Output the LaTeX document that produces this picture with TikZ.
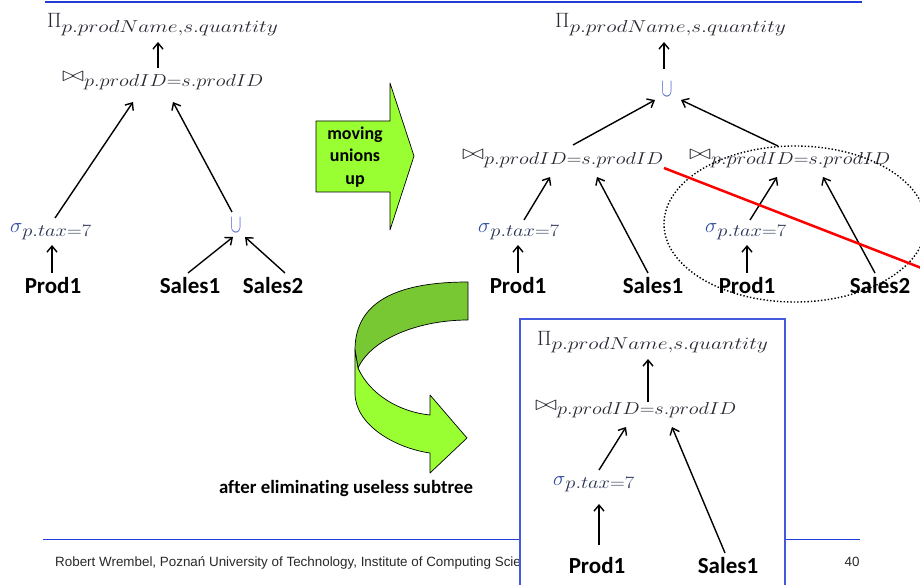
\documentclass[tikz,border=0pt]{standalone}
\usepackage{fontspec}
\usepackage{graphicx}
\setmainfont{Carlito}[Ligatures=NoCommon]
\newfontfamily\footfont{Liberation Sans}
\usetikzlibrary{arrows.meta}
\DeclareMathSizes{22}{22}{17}{13}

\definecolor{mgrey}{RGB}{40,40,52}
\definecolor{sblue}{RGB}{45,75,160}
\definecolor{slate}{RGB}{40,50,85}
\definecolor{ublue}{RGB}{70,95,200}
\definecolor{lgreen}{RGB}{153,255,51}
\definecolor{dgreen}{RGB}{119,200,51}
\definecolor{lineblue}{RGB}{35,60,215}
\definecolor{footgrey}{RGB}{40,40,40}

\newcommand{\widesub}[2][1.18]{\scalebox{#1}[1]{$\scriptstyle #2$}}
\newcommand{\projexpr}{$\Pi_{\widesub[1.24]{p.prodName,s.quantity}}$}
\newcommand{\joinexpr}{$\scalebox{1.3}[1]{$\bowtie$}_{\widesub{p.prodID=s.prodID}}$}
\newcommand{\selexpr}{$\textcolor{sblue}{\sigma}_{\color{slate}\widesub{p.tax=7}}$}
\newcommand{\unionexpr}{\scalebox{0.8}[1.25]{$\cup$}}

\begin{document}
\begin{tikzpicture}[
  x=1pt,y=-1pt,
  expr/.style={inner sep=0pt,anchor=base west,text=mgrey,font=\fontsize{22}{26}\selectfont},
  uni/.style={inner sep=0pt,anchor=base,text=ublue,font=\fontsize{22}{26}\selectfont},
  rel/.style={inner sep=2pt,anchor=base,font=\fontsize{23}{27}\selectfont\bfseries},
  arr/.style={-{Straight Barb[length=6pt,width=10pt]},line width=1.4pt},
  greenarrow/.style={draw=black,fill=lgreen,line width=0.7pt,line join=round}
]
\useasboundingbox (0,0) rectangle (920,585);
\clip (0,0) rectangle (920,585);

\draw[lineblue,line width=2.5pt] (45,2) -- (862,2);
\draw[lineblue,line width=1pt] (43,539) -- (860,539);
\node[anchor=base west,inner sep=0pt,text=footgrey,font=\footfont\fontsize{13.4}{16}\selectfont] (foot) at (55,566) {Robert Wrembel, Poznań University of Technology, Institute of Computing Science};
\node[anchor=base,inner sep=0pt,text=footgrey,font=\footfont\fontsize{13.4}{16}\selectfont] (page) at (852,566) {40};

% original tree
\node[expr] (p1) at (47,28) {\projexpr};
\node[expr] (j1) at (62,82) {\joinexpr};
\node[expr] (s1) at (10,233) {\selexpr};
\node[uni] (u1) at (236,233) {\unionexpr};
\node[rel] (a1) at (53,293) {Prod1};
\node[rel] (a2) at (190,293) {Sales1};
\node[rel] (a3) at (273,293) {Sales2};
\draw[arr] ([xshift=96pt,yshift=14pt]j1.base west) -- ([xshift=111pt,yshift=-14pt]p1.base west);
\draw[arr] ([xshift=45pt,yshift=15pt]s1.base west) -- ([xshift=71pt,yshift=-20pt]j1.base west);
\draw[arr] ([xshift=-4pt,yshift=21pt]u1.base) -- ([xshift=111pt,yshift=-20pt]j1.base west);
\draw[arr] ([xshift=-1pt,yshift=20pt]a1.base) -- ([xshift=42pt,yshift=-12pt]s1.base west);
\draw[arr] ([xshift=-2pt,yshift=20pt]a2.base) -- ([xshift=-3pt,yshift=-4pt]u1.base);
\draw[arr] ([xshift=12pt,yshift=20pt]a3.base) -- ([xshift=9pt,yshift=-4pt]u1.base);

% moving unions up
\draw[greenarrow] (316,121) -- (390,121) -- (390,83) -- (414,156) -- (390,230) -- (390,192) -- (316,192) -- cycle;
\node[font=\fontsize{18}{22.5}\selectfont\bfseries,align=center] (mv) at (355,157) {moving\\unions\\up};

% tree after moving unions
\node[expr] (p2) at (555,28) {\projexpr};
\node[uni] (u2) at (667,97) {\unionexpr};
\node[expr] (j2) at (462,160) {\joinexpr};
\node[expr] (j3) at (689,160) {\joinexpr};
\node[expr] (s2) at (478,233) {\selexpr};
\node[expr] (s3) at (705,233) {\selexpr};
\node[rel] (b1) at (518,293) {Prod1};
\node[rel] (b2) at (653,293) {Sales1};
\node[rel] (b3) at (747,293) {Prod1};
\node[rel] (b4) at (880,293) {Sales2};
\draw[arr] ([xshift=-3pt,yshift=28pt]u2.base) -- ([xshift=109pt,yshift=-14pt]p2.base west);
\draw[arr] ([xshift=111pt,yshift=15pt]j2.base west) -- ([xshift=-12pt,yshift=-3pt]u2.base);
\draw[arr] ([xshift=89pt,yshift=14pt]j3.base west) -- ([xshift=14pt,yshift=-3pt]u2.base);
\draw[arr] ([xshift=46pt,yshift=13pt]s2.base west) -- ([xshift=88pt,yshift=-17pt]j2.base west);
\draw[arr] ([xshift=-5pt,yshift=20pt]b2.base) -- ([xshift=135pt,yshift=-17pt]j2.base west);
\draw[arr] ([yshift=20pt]b1.base) -- ([xshift=40pt,yshift=-12pt]s2.base west);
\draw[arr] ([xshift=45pt,yshift=13pt]s3.base west) -- ([xshift=88pt,yshift=-17pt]j3.base west);
\draw[arr] ([xshift=-5pt,yshift=20pt]b4.base) -- ([xshift=134pt,yshift=-17pt]j3.base west);
\draw[arr] ([yshift=20pt]b3.base) -- ([xshift=42pt,yshift=-12pt]s3.base west);
\draw[dotted,line width=1.4pt] (795,224) ellipse [x radius=131,y radius=78];
\draw[red,line width=2.5pt] ([xshift=202pt,yshift=-8pt]j2.base west) -- (960,283);

% eliminating the subtree
\draw[greenarrow,fill=dgreen] (468,282) -- (468,320) .. controls (420,320) and (372,338) .. (358,368)
  -- (355,350) .. controls (355,300) and (400,282) .. cycle;
\draw[greenarrow] (355,350) -- (355,393) .. controls (355,425) and (395,448) .. (430,453)
  -- (430,473) -- (467,438) -- (430,395) -- (430,415) .. controls (400,412) and (370,395) .. (358,368) -- cycle;
\node[anchor=base,inner sep=0pt,font=\fontsize{18.8}{22}\selectfont\bfseries] (el) at (346,493) {after eliminating useless subtree};

% final tree
\draw[lineblue!85!white,line width=1.2pt,fill=white] (520,319) rectangle (785,600);
\node[expr] (p3) at (537,345) {\projexpr};
\node[expr] (j4) at (535,410) {\joinexpr};
\node[expr] (s4) at (553,485) {\selexpr};
\node[rel] (c1) at (597,573) {Prod1};
\node[rel] (c2) at (728,573) {Sales1};
\draw[arr] ([xshift=113pt,yshift=8pt]j4.base west) -- ([xshift=111pt,yshift=-14pt]p3.base west);
\draw[arr] ([xshift=46pt,yshift=15pt]s4.base west) -- ([xshift=91pt,yshift=-17pt]j4.base west);
\draw[arr] ([xshift=-3pt,yshift=20pt]c2.base) -- ([xshift=137pt,yshift=-17pt]j4.base west);
\draw[arr] ([xshift=2pt,yshift=28pt]c1.base) -- ([xshift=46pt,yshift=-19pt]s4.base west);
\end{tikzpicture}
\end{document}
